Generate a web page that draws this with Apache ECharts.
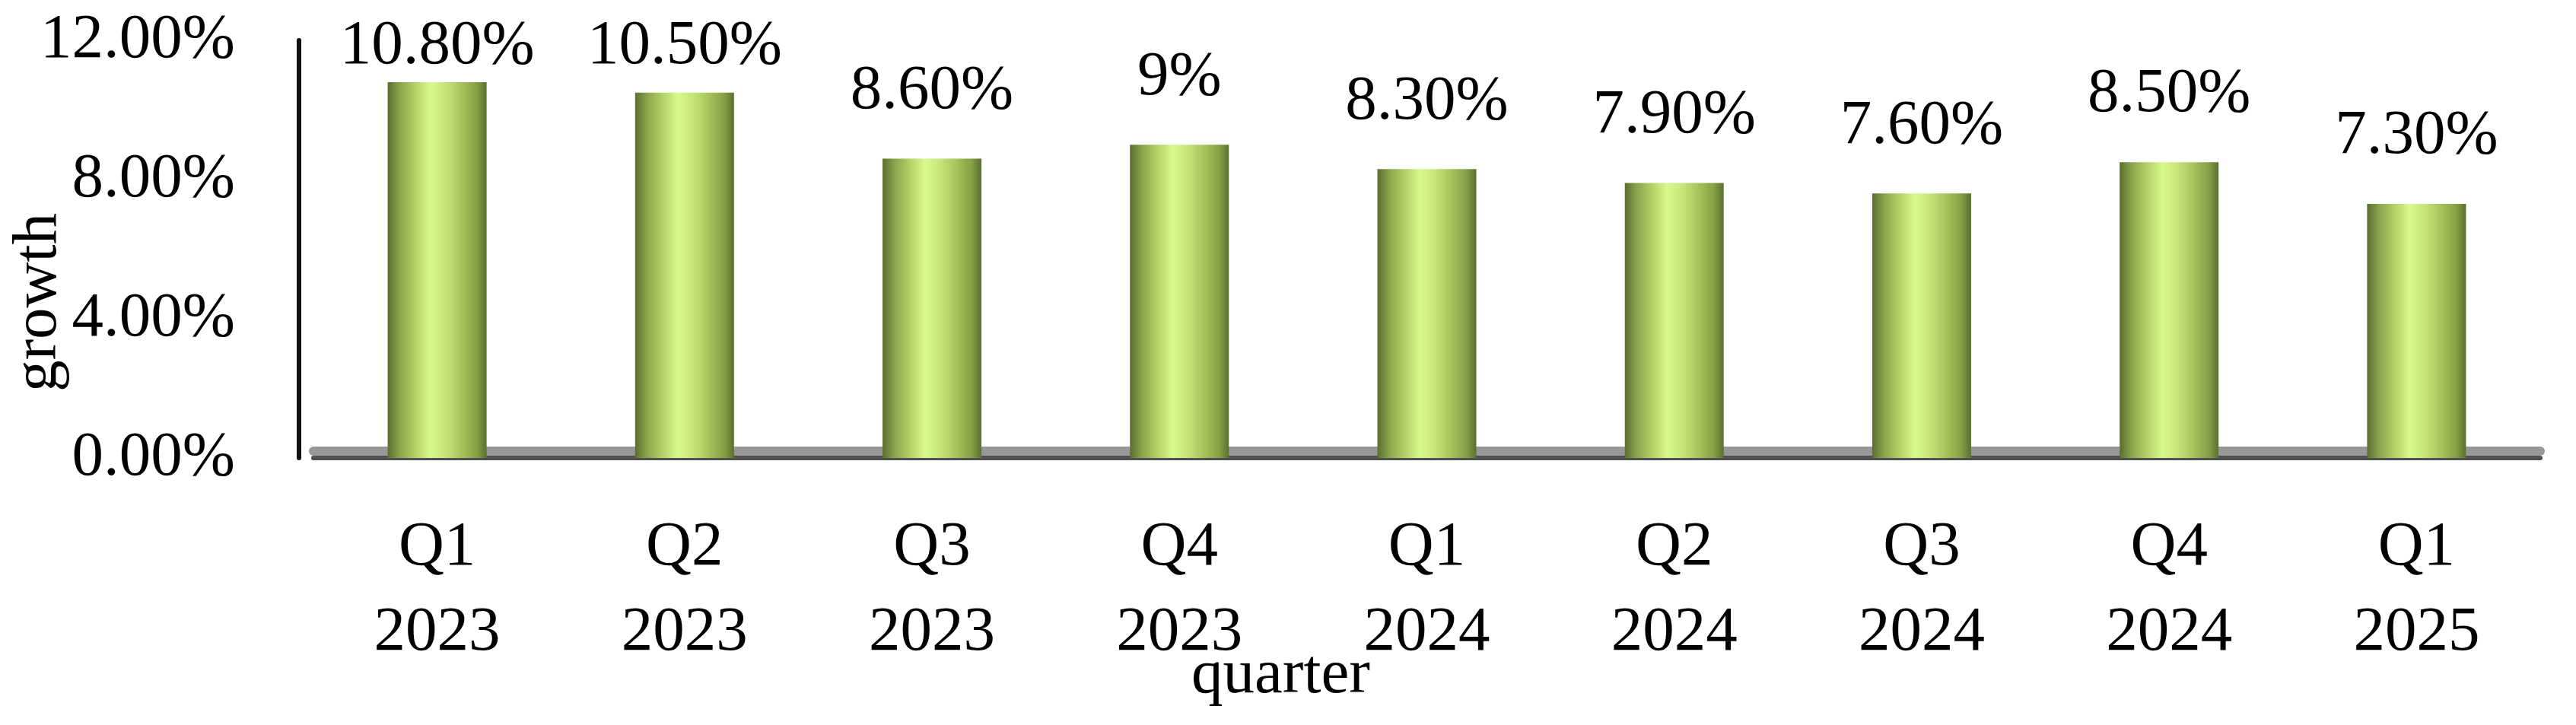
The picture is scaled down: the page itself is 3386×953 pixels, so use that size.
<!DOCTYPE html>
<html>
<head>
<meta charset="utf-8">
<script src="https://cdn.jsdelivr.net/npm/echarts@6/dist/echarts.min.js"></script>
<style>
  html, body { margin: 0; padding: 0; background: #fff; }
  #chart { width: 3386px; height: 953px; }
</style>
</head>
<body>
<div id="chart"></div>
<script>
// quarters on the x axis, two lines each
var quarters = ["Q1", "Q2", "Q3", "Q4", "Q1", "Q2", "Q3", "Q4", "Q1"];
var years = ["2023", "2023", "2023", "2023", "2024", "2024", "2024", "2024", "2025"];
// growth in percent
var growth = [10.8, 10.5, 8.6, 9, 8.3, 7.9, 7.6, 8.5, 7.3];
var yTicks = [0, 4, 8, 12];

var categories = quarters.map(function (q, i) { return q + "\n" + years[i]; });
var font = "Liberation Serif";

var barColor = new echarts.graphic.LinearGradient(0, 0, 1, 0, [
  { offset: 0, color: "#5a6e30" },
  { offset: 0.12, color: "#8aa44c" },
  { offset: 0.28, color: "#b3d268" },
  { offset: 0.43, color: "#d8f98e" },
  { offset: 0.58, color: "#c6e67a" },
  { offset: 0.75, color: "#a5c35b" },
  { offset: 0.9, color: "#86a046" },
  { offset: 1, color: "#5b6f31" }
]);

var myChart = echarts.init(document.getElementById("chart"));
myChart.setOption({
  animation: false,
  grid: {
    left: 412, right: 47, top: 53, bottom: 351,
    containLabel: false,
    outerBoundsMode: "none"
  },
  xAxis: [
    {
      type: "category",
      data: categories,
      name: "quarter",
      nameLocation: "middle",
      nameGap: 245,
      nameMoveOverlap: false,
      nameTextStyle: {
        fontFamily: font, fontSize: 83, lineHeight: 83, color: "#000",
        padding: [0, 384, 0, 0]
      },
      axisTick: { show: false },
      axisLine: { show: true, lineStyle: { color: "#505050", width: 6 } },
      axisLabel: {
        interval: 0, margin: 62,
        fontFamily: font, fontSize: 83, lineHeight: 112, color: "#000"
      }
    },
    {
      // grey floor under the bars
      type: "category",
      data: categories,
      position: "bottom",
      offset: -9,
      axisTick: { show: false },
      axisLabel: { show: false },
      axisLine: { show: true, lineStyle: { color: "#989898", width: 12 } }
    }
  ],
  yAxis: {
    type: "value",
    min: yTicks[0],
    max: yTicks[yTicks.length - 1],
    interval: yTicks[1] - yTicks[0],
    offset: 19,
    name: "growth",
    nameLocation: "middle",
    nameGap: 300,
    nameMoveOverlap: false,
    nameTextStyle: {
      fontFamily: font, fontSize: 83, lineHeight: 83, color: "#000",
      padding: [0, 140, 0, 0]
    },
    axisLine: { show: true, lineStyle: { color: "#111", width: 6 } },
    axisTick: { show: false },
    splitLine: { show: false },
    axisLabel: {
      margin: 84,
      fontFamily: font, fontSize: 83, color: "#000",
      formatter: function (v) { return v.toFixed(2) + "%"; }
    }
  },
  series: [
    {
      type: "bar",
      data: growth,
      barWidth: 130,
      itemStyle: { color: barColor },
      label: {
        show: true,
        position: "top",
        distance: 47,
        fontFamily: font,
        fontSize: 83,
        lineHeight: 83,
        color: "#000",
        formatter: function (p) {
          var v = p.value;
          return (Number.isInteger(v) ? v : v.toFixed(2)) + "%";
        }
      },
      // keep labels of tall bars inside the top of the chart
      labelLayout: function (params) {
        return { dy: Math.max(0, 20 - params.labelRect.y) };
      }
    }
  ]
});
</script>
</body>
</html>
